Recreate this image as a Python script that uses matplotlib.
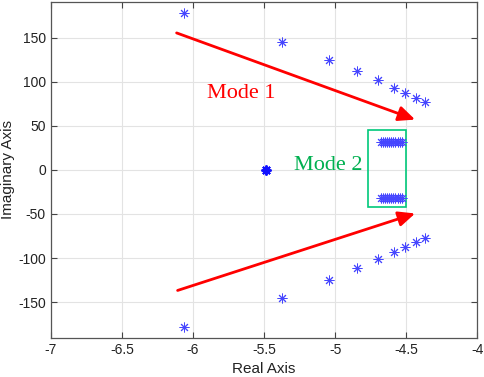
import matplotlib
matplotlib.use("Agg")
import matplotlib.pyplot as plt
from matplotlib.patches import Rectangle

plt.rcParams['font.family'] = ['Liberation Sans', 'DejaVu Sans']
plt.rcParams['axes.unicode_minus'] = False

# Mode 1 poles (upper half; lower half is the conjugate)
mode1_re = [-6.066, -5.376, -5.045, -4.843, -4.700, -4.589, -4.505, -4.432, -4.366]
mode1_im = [178.0, 145.0, 125.0, 111.8, 101.6, 93.3, 87.3, 82.0, 77.4]

# Mode 2 poles (dense cluster)
mode2_re = [-4.68, -4.665, -4.65, -4.635, -4.62, -4.605, -4.59, -4.575, -4.56, -4.545, -4.53]
mode2_im_upper = 32.0
mode2_im_lower = -32.5

# Real pole(s)
real_re = [-5.488, -5.486]
real_im = [0.0, 0.0]

xticks = [-7, -6.5, -6, -5.5, -5, -4.5, -4]
xticklabels = ['-7', '-6.5', '-6', '-5.5', '-5', '-4.5', '-4']
yticks = [-150, -100, -50, 0, 50, 100, 150]

blue = '#4646ff'

fig = plt.figure(figsize=(4.84, 3.77), dpi=100)
ax = fig.add_axes([0.105, 0.104, 0.881, 0.891])

mk = dict(marker=(8, 2, 0), linestyle='none', color=blue, markersize=7, markeredgewidth=0.7)
ax.plot(mode1_re, mode1_im, **mk)
ax.plot(mode1_re, [-v for v in mode1_im], **mk)
ax.plot(mode2_re, [mode2_im_upper] * len(mode2_re), **mk)
ax.plot(mode2_re, [mode2_im_lower] * len(mode2_re), **mk)
ax.plot(real_re, real_im, marker=(8, 2, 0), linestyle='none', color='#1010ff', markersize=7, markeredgewidth=1.3)

# Arrows
ax.annotate('', xy=(-4.437, 57.0), xytext=(-6.115, 155.3),
            arrowprops=dict(arrowstyle='-|>,head_length=1.0,head_width=0.45', color='#ff0000', lw=2.0,
                            shrinkA=0, shrinkB=0))
ax.annotate('', xy=(-4.437, -49.5), xytext=(-6.108, -136.8),
            arrowprops=dict(arrowstyle='-|>,head_length=1.0,head_width=0.45', color='#ff0000', lw=2.0,
                            shrinkA=0, shrinkB=0))

# Green box
ax.add_patch(Rectangle((-4.765, -41.6), 0.267, 87.3, fill=False, edgecolor='#00c87a', lw=1.2))

ax.text(-5.657, 86.5, 'Mode 1', color='#ff0000', fontsize=16, family='Liberation Serif',
        ha='center', va='center')
ax.text(-5.047, 5.3, 'Mode 2', color='#00b050', fontsize=16, family='Liberation Serif',
        ha='center', va='center')

ax.set_xlim(-7, -4)
ax.set_ylim(-190.5, 190.5)
ax.set_xticks(xticks)
ax.set_xticklabels(xticklabels)
ax.set_yticks(yticks)
ax.grid(True, color='#e3e3e3', lw=0.8)
ax.set_axisbelow(True)
ax.tick_params(direction='in', top=True, right=True, labelsize=10, length=4, color='#444444',
               labelcolor='#222222')
for s in ax.spines.values():
    s.set_color('#555555')
    s.set_linewidth(0.9)
ax.set_xlabel('Real Axis', fontsize=11, color='#222222', labelpad=4)
ax.set_ylabel('Imaginary Axis', fontsize=11, color='#222222', labelpad=2)

fig.savefig('out.png', dpi=100)
